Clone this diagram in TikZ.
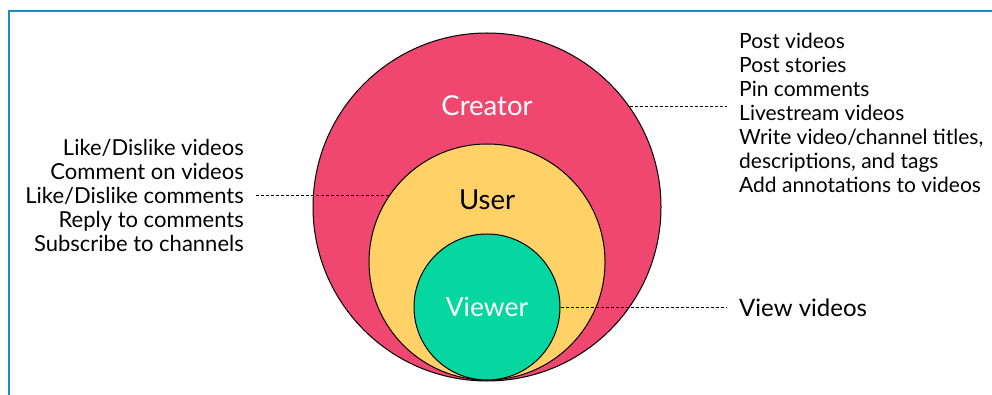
\documentclass[tikz,border=0pt]{standalone}
\usepackage{fontspec}
\setmainfont{Lato}
\definecolor{creatorred}{HTML}{EF476F}
\definecolor{useryellow}{HTML}{FFD166}
\definecolor{viewergreen}{HTML}{06D6A0}
\definecolor{frameblue}{HTML}{1A8BC4}
\tikzset{
  role/.style={circle, draw=black, line width=1pt, inner sep=0pt},
  rolename/.style={font=\fontsize{27.5}{32}\selectfont, inner sep=0pt},
  perms/.style={font=\fontsize{21}{24}\selectfont, inner ysep=0pt, inner xsep=12pt},
  leader/.style={dash pattern=on 3pt off 2pt, line width=0.9pt},
}
\begin{document}
\begin{tikzpicture}[x=1pt,y=-1pt]
\useasboundingbox (0,0) rectangle (992,395);
\draw[color=frameblue,line width=2.5pt] (9,395) -- (9,11) -- (992,11); % frame
% the three circles, biggest first
\node[role, fill=creatorred, minimum size=348pt] (creator) at (487,207) {};
\node[role, fill=useryellow, minimum size=236pt] (user) at (487,262) {};
\node[role, fill=viewergreen, minimum size=146pt, font=\fontsize{26.5}{30}\selectfont, text=white] (viewer) at (487,307) {Viewer};
\node[rolename, text=white] (creatorname) at (487,106) {Creator};
\node[rolename] (username) at (487,200) {User};
% edit here for the lists
\node[perms, anchor=north west, align=left] (creatorperms) at (727,33) {Post videos\\Post stories\\Pin comments\\Livestream videos\\Write video/channel titles,\\descriptions, and tags\\Add annotations to videos};
\node[perms, anchor=north east, align=right, font=\fontsize{22}{24}\selectfont] (userperms) at (256,139) {Like/Dislike videos\\Comment on videos\\Like/Dislike comments\\Reply to comments\\Subscribe to channels};
\node[perms, anchor=base west, font=\fontsize{24}{28}\selectfont] (viewerperms) at (727,316) {View videos};
% dashed leaders
\draw[leader] (creator.35) -- (creator.35 -| creatorperms.west);
\draw[leader] (user.146.6) -- (user.146.6 -| userperms.east);
\draw[leader] (viewer.east) -- (viewerperms.west |- viewer.east);
\end{tikzpicture}
\end{document}
